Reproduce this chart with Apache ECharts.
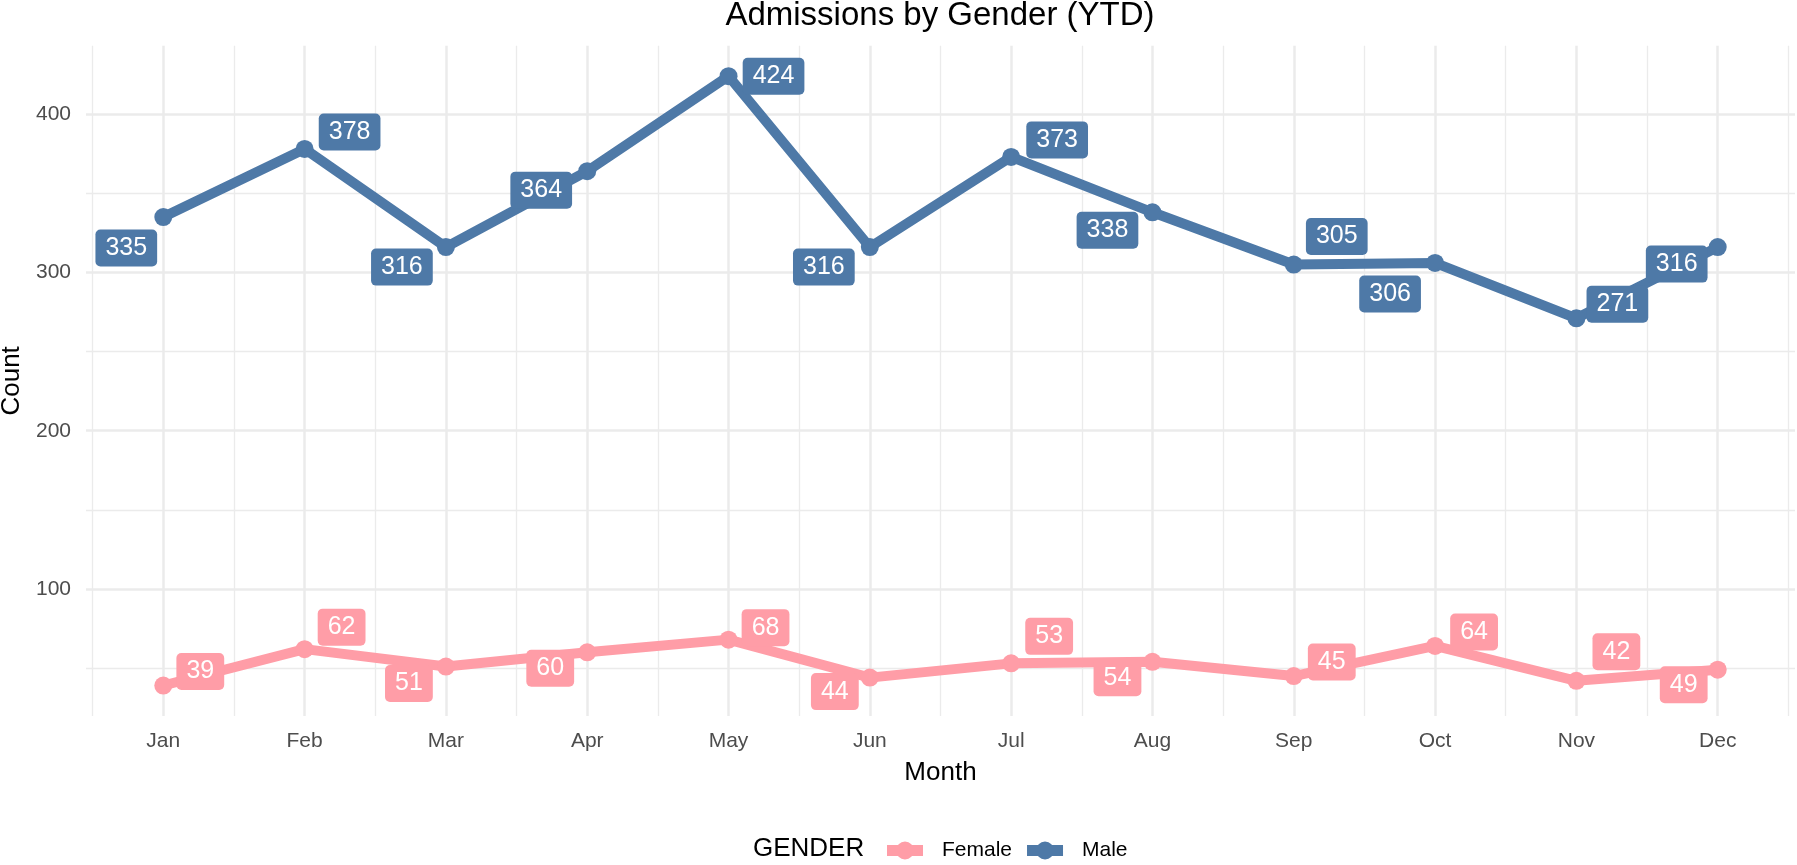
<!DOCTYPE html>
<html>
<head>
<meta charset="utf-8">
<title>Admissions by Gender (YTD)</title>
<script src="https://cdn.jsdelivr.net/npm/echarts@6.0.0/dist/echarts.min.js"></script>
<style>
  html, body { margin: 0; padding: 0; background: #fff; }
  #chart { width: 1797px; height: 865px; }
</style>
</head>
<body>
<div id="chart"></div>
<script>
const months = ['Jan', 'Feb', 'Mar', 'Apr', 'May', 'Jun', 'Jul', 'Aug', 'Sep', 'Oct', 'Nov', 'Dec'];
const female = [39, 62, 51, 60, 68, 44, 53, 54, 45, 64, 42, 49];
const male = [335, 378, 316, 364, 424, 316, 373, 338, 305, 306, 271, 316];
const yMajorTicks = [100, 200, 300, 400];
const yMinorTicks = [50, 150, 250, 350];

// where the repelled labels sit relative to their point (px)
const femaleLabelOffsets = [[37, -14], [37, -22], [-37, 17], [-37, 16], [37, -12], [-35, 14],
  [38, -27], [-35, 16], [38, -14], [39, -14], [40, -29], [-34, 15]];
const maleLabelOffsets = [[-37, 31], [45, -17], [-44, 20], [-46, 19], [45, 0], [-46, 20],
  [46, -17], [-45, 18], [43, -28], [-45, 31], [41, -14], [-41, 17]];

const FONT = '"Liberation Sans", Arial, sans-serif';
const FEMALE_COLOR = '#FF9DA7';
const MALE_COLOR = '#4E79A7';
const GRID_COLOR = '#EBEBEB';

const xMin = -0.547, xMax = 11.547;
const yMin = 19.75, yMax = 443.25;
const monthTicks = months.map((m, i) => i);
const monthMinorTicks = months.map((m, i) => i - 0.5).concat([months.length - 0.5]);

const legendIcon = 'path://M0,3.6H36V14.4H0Z M27,9A9,9 0 1 1 9,9A9,9 0 1 1 27,9Z';

const makeSeries = (name, values, offsets, color) => ({
  name,
  type: 'line',
  xAxisIndex: 0,
  yAxisIndex: 0,
  data: values.map((v, i) => ({
    value: [i, v],
    label: { offset: offsets[i] }
  })),
  symbol: 'circle',
  symbolSize: 18,
  showAllSymbol: true,
  lineStyle: { color, width: 10 },
  itemStyle: { color },
  emphasis: { disabled: true },
  label: {
    show: true,
    position: 'inside',
    formatter: (p) => p.value[1],
    color: '#fff',
    fontFamily: FONT,
    fontSize: 25,
    backgroundColor: color,
    borderRadius: 5,
    padding: [6, 10]
  },
  z: 3
})

const chart = echarts.init(document.getElementById('chart'));

chart.setOption({
  backgroundColor: '#fff',
  animation: false,
  title: {
    text: 'Admissions by Gender (YTD)',
    left: 940,
    textAlign: 'center',
    top: -1,
    padding: 0,
    textStyle: { fontFamily: FONT, fontSize: 33, fontWeight: 'normal', color: '#000' }
  },
  grid: { left: 86, right: 2, top: 45.7, bottom: 149, containLabel: false, outerBoundsMode: 'none' },
  legend: {
    data: ['Female', 'Male'],
    left: 887,
    top: 840,
    padding: 0,
    itemWidth: 36,
    itemHeight: 18,
    itemGap: 15,
    icon: legendIcon,
    textStyle: { fontFamily: FONT, fontSize: 21, color: '#000', padding: [0, 0, 0, 14] }
  },
  graphic: [{
    type: 'text',
    left: 753,
    top: 836,
    style: { text: 'GENDER', font: '26px ' + FONT, fill: '#000' }
  }],
  xAxis: [
    {
      type: 'value',
      min: xMin,
      max: xMax,
      name: 'Month',
      nameLocation: 'middle',
      nameGap: 44,
      nameTextStyle: { fontFamily: FONT, fontSize: 26, color: '#000' },
      axisLine: { show: false },
      axisTick: { show: false, customValues: monthTicks },
      axisLabel: {
        customValues: monthTicks,
        formatter: (v) => months[Math.round(v)],
        fontFamily: FONT,
        fontSize: 21,
        color: '#4D4D4D',
        margin: 15
      },
      splitLine: { show: true, lineStyle: { color: GRID_COLOR, width: 2.5 } }
    },
    {
      type: 'value',
      min: xMin,
      max: xMax,
      axisLine: { show: false },
      axisTick: { show: false, customValues: monthMinorTicks },
      axisLabel: { show: false },
      splitLine: { show: true, lineStyle: { color: GRID_COLOR, width: 1.3 } }
    }
  ],
  yAxis: [
    {
      type: 'value',
      min: yMin,
      max: yMax,
      name: 'Count',
      nameLocation: 'middle',
      nameGap: 56,
      nameTextStyle: { fontFamily: FONT, fontSize: 26, color: '#000' },
      axisLine: { show: false },
      axisTick: { show: false, customValues: yMajorTicks },
      axisLabel: {
        customValues: yMajorTicks,
        fontFamily: FONT,
        fontSize: 21,
        color: '#4D4D4D',
        margin: 15
      },
      splitLine: { show: true, lineStyle: { color: GRID_COLOR, width: 2.5 } }
    },
    {
      type: 'value',
      min: yMin,
      max: yMax,
      position: 'left',
      axisLine: { show: false },
      axisTick: { show: false, customValues: yMinorTicks },
      axisLabel: { show: false },
      splitLine: { show: true, lineStyle: { color: GRID_COLOR, width: 1.3 } }
    }
  ],
  series: [
    makeSeries('Female', female, femaleLabelOffsets, FEMALE_COLOR),
    makeSeries('Male', male, maleLabelOffsets, MALE_COLOR)
  ]
});
</script>
</body>
</html>
